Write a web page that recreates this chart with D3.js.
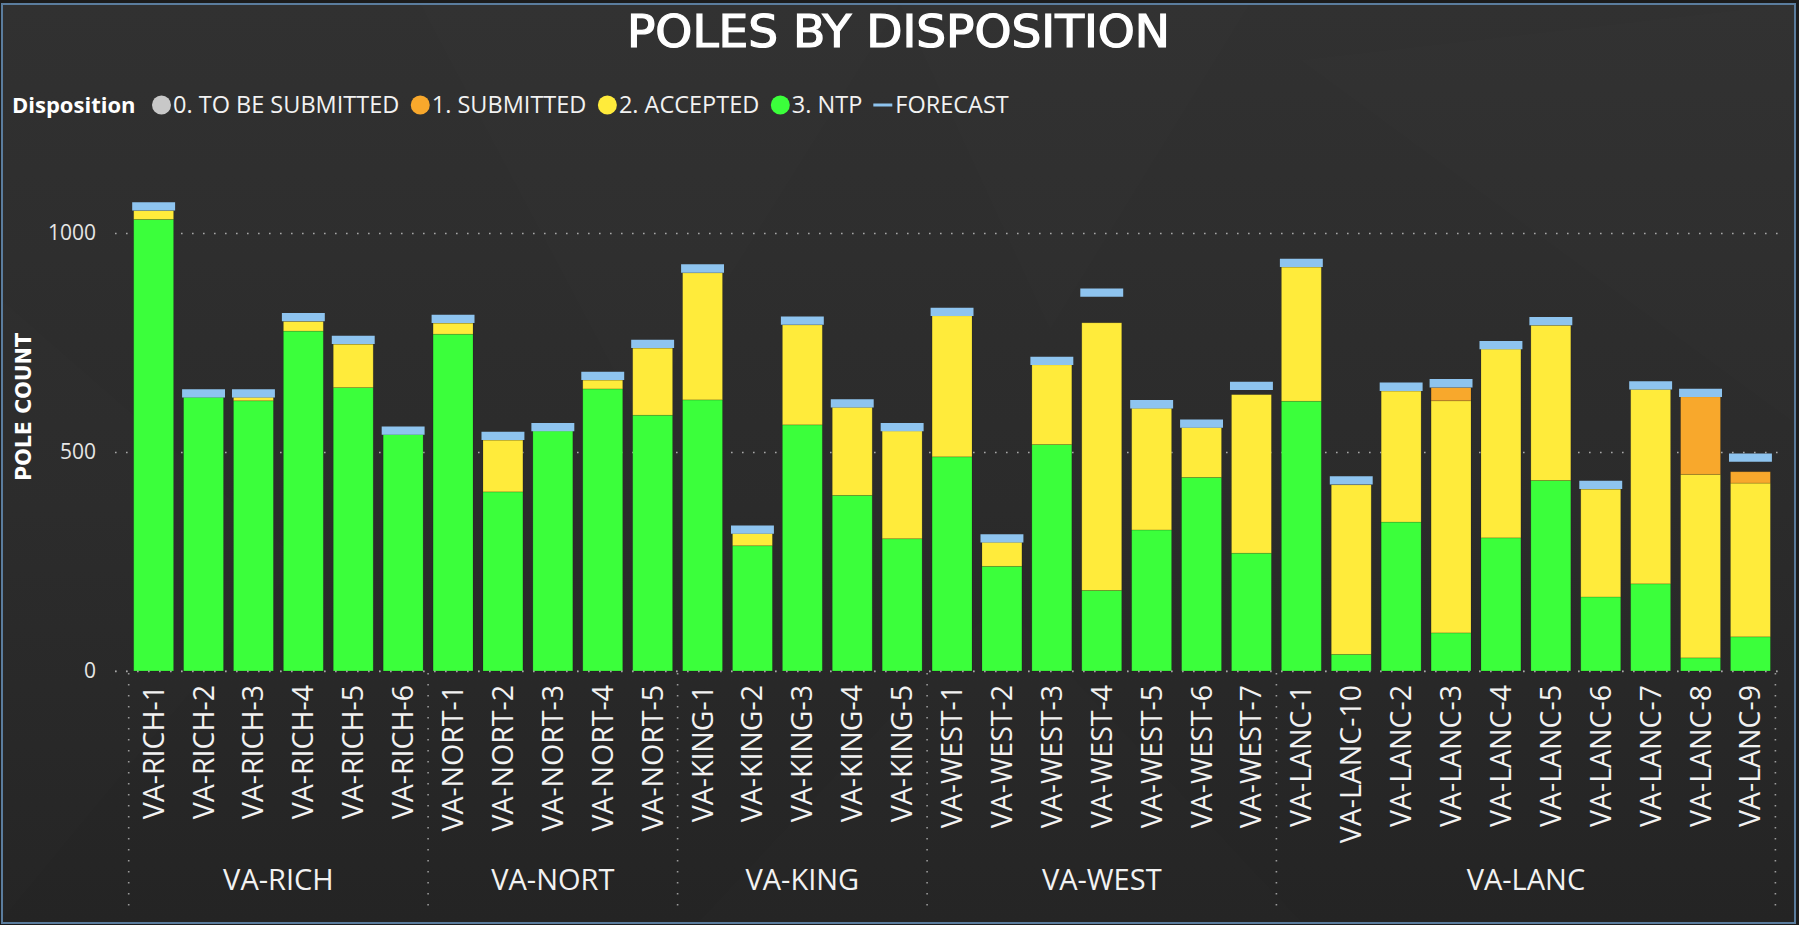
<!DOCTYPE html>
<html>
<head>
<meta charset="utf-8">
<script src="https://cdn.jsdelivr.net/npm/d3@7"></script>
<style>
  html, body { margin: 0; padding: 0; background: #1e1e1e; }
  svg { display: block; }
</style>
</head>
<body>
<svg id="chart" width="1799" height="925"></svg>
<script>
// ---------------- DATA ----------------
const groups = ["VA-RICH", "VA-NORT", "VA-KING", "VA-WEST", "VA-LANC"];
const categories = [
  "VA-RICH-1","VA-RICH-2","VA-RICH-3","VA-RICH-4","VA-RICH-5","VA-RICH-6",
  "VA-NORT-1","VA-NORT-2","VA-NORT-3","VA-NORT-4","VA-NORT-5",
  "VA-KING-1","VA-KING-2","VA-KING-3","VA-KING-4","VA-KING-5",
  "VA-WEST-1","VA-WEST-2","VA-WEST-3","VA-WEST-4","VA-WEST-5","VA-WEST-6","VA-WEST-7",
  "VA-LANC-1","VA-LANC-10","VA-LANC-2","VA-LANC-3","VA-LANC-4","VA-LANC-5","VA-LANC-6","VA-LANC-7","VA-LANC-8","VA-LANC-9"
];
const ntp = [
  1031, 625, 617, 776, 647, 540,
  769, 409, 548, 644, 584,
  619, 286, 562, 401, 302,
  489, 239, 517, 184, 322, 442, 269,
  616, 38, 340, 87, 304, 435, 169, 199, 30, 78
];
const accepted = [
  20, 0, 8, 22, 99, 0,
  25, 118, 0, 20, 153,
  290, 28, 228, 201, 246,
  322, 55, 182, 611, 278, 114, 362,
  306, 387, 299, 530, 431, 354, 246, 444, 419, 351
];
const submitted = [
  0, 0, 0, 0, 0, 0,
  0, 0, 0, 0, 0,
  0, 0, 0, 0, 0,
  0, 0, 0, 0, 0, 0, 0,
  0, 0, 0, 30, 0, 0, 0, 0, 177, 26
];
const toBeSubmitted = [
  0, 0, 0, 0, 0, 0,
  0, 0, 0, 0, 0,
  0, 0, 0, 0, 0,
  0, 0, 0, 0, 0, 0, 0,
  0, 0, 0, 0, 0, 0, 0, 0, 0, 0
];
const forecast = [
  1061, 634, 634, 808, 756, 549,
  804, 537, 557, 674, 747,
  919, 323, 800, 611, 557,
  820, 303, 708, 864, 609, 565, 651,
  932, 435, 649, 657, 744, 799, 425, 652, 635, 487
];
const yTicks = [0, 500, 1000];
const seriesNames = ["0. TO BE SUBMITTED", "1. SUBMITTED", "2. ACCEPTED", "3. NTP"];
const seriesColors = ["#c8c8c8", "#f8a82c", "#ffeb3b", "#3bff3b"];
const forecastName = "FORECAST";
const forecastColor = "#8ec4ef";

// ---------------- CHART ----------------
const W = 1799, H = 925;
const svg = d3.select("#chart");

const defs = svg.append("defs");
const grad = defs.append("linearGradient").attr("id", "bg").attr("x1", 0).attr("y1", 0).attr("x2", 0).attr("y2", 1);
grad.append("stop").attr("offset", "0%").attr("stop-color", "#313131");
grad.append("stop").attr("offset", "55%").attr("stop-color", "#2b2b2b");
grad.append("stop").attr("offset", "100%").attr("stop-color", "#242424");

svg.append("rect").attr("x", 0).attr("y", 0).attr("width", W).attr("height", H).attr("fill", "#1c1c1c");
svg.append("rect").attr("x", 2).attr("y", 4).attr("width", W - 6).attr("height", H - 6).attr("fill", "url(#bg)");

// subtle background facets
const facets = [
  [[420, 4], [900, 4], [640, 420]],
  [[900, 4], [1250, 4], [1050, 330]],
  [[1300, 60], [1790, 4], [1790, 420]],
  [[2, 300], [300, 560], [2, 920]],
  [[700, 920], [1000, 600], [1300, 920]]
];
svg.append("g").selectAll("polygon").data(facets).join("polygon")
  .attr("points", d => d.map(p => p.join(",")).join(" "))
  .attr("fill", "#ffffff").attr("opacity", 0.008);

// border
svg.append("rect").attr("x", 2).attr("y", 4).attr("width", W - 6).attr("height", H - 6)
  .attr("fill", "none").attr("stroke", "#5b7d9e").attr("stroke-width", 2);

const x = d3.scaleBand().domain(categories).range([128.7, 1775.4]).paddingInner(0.2).paddingOuter(0.1);
const y = d3.scaleLinear().domain([0, 1100]).range([671, 189.2]);

const rows = categories.map((c, i) => ({
  cat: c,
  group: c.replace(/-\d+$/, ""),
  "3. NTP": ntp[i],
  "2. ACCEPTED": accepted[i],
  "1. SUBMITTED": submitted[i],
  "0. TO BE SUBMITTED": toBeSubmitted[i],
  forecast: forecast[i]
}));

// gridlines
const gridG = svg.append("g").attr("transform", "translate(115,0)")
  .call(d3.axisLeft(y).tickValues(yTicks).tickSize(-(1782 - 115)).tickFormat(""));
gridG.select(".domain").remove();
gridG.selectAll("line").attr("stroke", "#a8a8a8").attr("stroke-width", 1.6).attr("stroke-dasharray", "1.6,9.4");

// y tick labels
const yAx = svg.append("g").attr("transform", "translate(115,0)")
  .call(d3.axisLeft(y).tickValues(yTicks).tickSize(0).tickPadding(19).tickFormat(d3.format("d")));
yAx.select(".domain").remove();
yAx.selectAll("text").attr("fill", "#e6e6e6").attr("font-family", "'Open Sans', sans-serif").attr("font-size", 21);

// stacked bars (NTP bottom)
const keys = ["3. NTP", "2. ACCEPTED", "1. SUBMITTED", "0. TO BE SUBMITTED"];
const colorOf = d3.scaleOrdinal().domain(seriesNames).range(seriesColors);
const stacked = d3.stack().keys(keys)(rows);
svg.append("g").selectAll("g").data(stacked).join("g")
  .attr("fill", d => colorOf(d.key))
  .selectAll("rect").data(d => d.filter(s => s[1] - s[0] > 0)).join("rect")
  .attr("x", d => x(d.data.cat))
  .attr("width", x.bandwidth())
  .attr("y", d => y(d[1]))
  .attr("height", d => y(d[0]) - y(d[1]))
  .attr("stroke", "rgba(0,0,0,0.18)").attr("stroke-width", 0.8);

// zero line dotted over bar bottoms
svg.append("line").attr("x1", 115).attr("x2", 1782).attr("y1", y(0)).attr("y2", y(0))
  .attr("stroke", "#a8a8a8").attr("stroke-width", 1.6).attr("stroke-dasharray", "1.6,9.4").attr("opacity", 0.6);

// forecast markers
svg.append("g").selectAll("line").data(rows).join("line")
  .attr("x1", d => x(d.cat) - 1.5)
  .attr("x2", d => x(d.cat) + x.bandwidth() + 1.5)
  .attr("y1", d => y(d.forecast))
  .attr("y2", d => y(d.forecast))
  .attr("stroke", forecastColor).attr("stroke-width", 8.3);

// category labels
svg.append("g").selectAll("text").data(categories).join("text")
  .attr("transform", d => `translate(${x(d) + x.bandwidth() / 2},685) rotate(-90)`)
  .attr("text-anchor", "end")
  .attr("dy", "0.35em")
  .attr("fill", "#f2f2f2")
  .attr("font-family", "'Open Sans', sans-serif")
  .attr("font-size", 28.5)
  .text(d => d);

// group separators and labels
const groupInfo = groups.map(g => {
  const cats = categories.filter(c => c.replace(/-\d+$/, "") === g);
  const x0 = x(cats[0]) - x.step() * x.paddingInner() / 2;
  const x1 = x(cats[cats.length - 1]) + x.bandwidth() + x.step() * x.paddingInner() / 2;
  return { g, x0, x1 };
});
const sepXs = [groupInfo[0].x0].concat(groupInfo.map(d => d.x1));
svg.append("g").selectAll("line").data(sepXs).join("line")
  .attr("x1", d => d).attr("x2", d => d)
  .attr("y1", 673).attr("y2", 908)
  .attr("stroke", "#9a9a9a").attr("stroke-width", 1.6).attr("stroke-dasharray", "1.6,9.4");

svg.append("g").selectAll("text").data(groupInfo).join("text")
  .attr("x", d => (d.x0 + d.x1) / 2)
  .attr("y", 890)
  .attr("text-anchor", "middle")
  .attr("fill", "#f2f2f2")
  .attr("font-family", "'Open Sans', sans-serif")
  .attr("font-size", 29)
  .text(d => d.g);

// y axis title
svg.append("text")
  .attr("transform", "translate(31,407) rotate(-90)")
  .attr("text-anchor", "middle")
  .attr("fill", "#ffffff")
  .attr("font-family", "'DejaVu Sans Condensed', sans-serif")
  .attr("font-weight", "bold")
  .attr("font-size", 22)
  .attr("textLength", 148)
  .attr("lengthAdjust", "spacingAndGlyphs")
  .text("POLE COUNT");

// title
svg.append("text")
  .attr("x", 898.5).attr("y", 46.7)
  .attr("text-anchor", "middle")
  .attr("fill", "#ffffff")
  .attr("stroke", "#ffffff")
  .attr("stroke-width", 1.2)
  .attr("font-family", "'DejaVu Sans Condensed', sans-serif")
  .attr("font-size", 45)
  .attr("textLength", 543)
  .attr("lengthAdjust", "spacingAndGlyphs")
  .text("POLES BY DISPOSITION");

// legend
const leg = svg.append("g");
const legY = 113;
const title = leg.append("text").attr("x", 12).attr("y", legY)
  .attr("fill", "#ffffff").attr("font-family", "'Open Sans', sans-serif").attr("font-weight", "bold")
  .attr("font-size", 22).text("Disposition");
let cx = 12 + title.node().getComputedTextLength() + 26;
seriesNames.forEach((name, i) => {
  leg.append("circle").attr("cx", cx).attr("cy", 105).attr("r", 9.5).attr("fill", seriesColors[i]);
  const t = leg.append("text").attr("x", cx + 11.5).attr("y", legY)
    .attr("fill", "#f2f2f2").attr("font-family", "'Open Sans', sans-serif")
    .attr("font-size", 23.5).text(name);
  cx = cx + 11.5 + t.node().getComputedTextLength() + 21;
});
const fx = cx - 10;
leg.append("line").attr("x1", fx).attr("x2", fx + 19).attr("y1", 105).attr("y2", 105)
  .attr("stroke", forecastColor).attr("stroke-width", 3);
leg.append("text").attr("x", fx + 22).attr("y", legY)
  .attr("fill", "#f2f2f2").attr("font-family", "'Open Sans', sans-serif")
  .attr("font-size", 23.5).text(forecastName);
</script>
</body>
</html>
